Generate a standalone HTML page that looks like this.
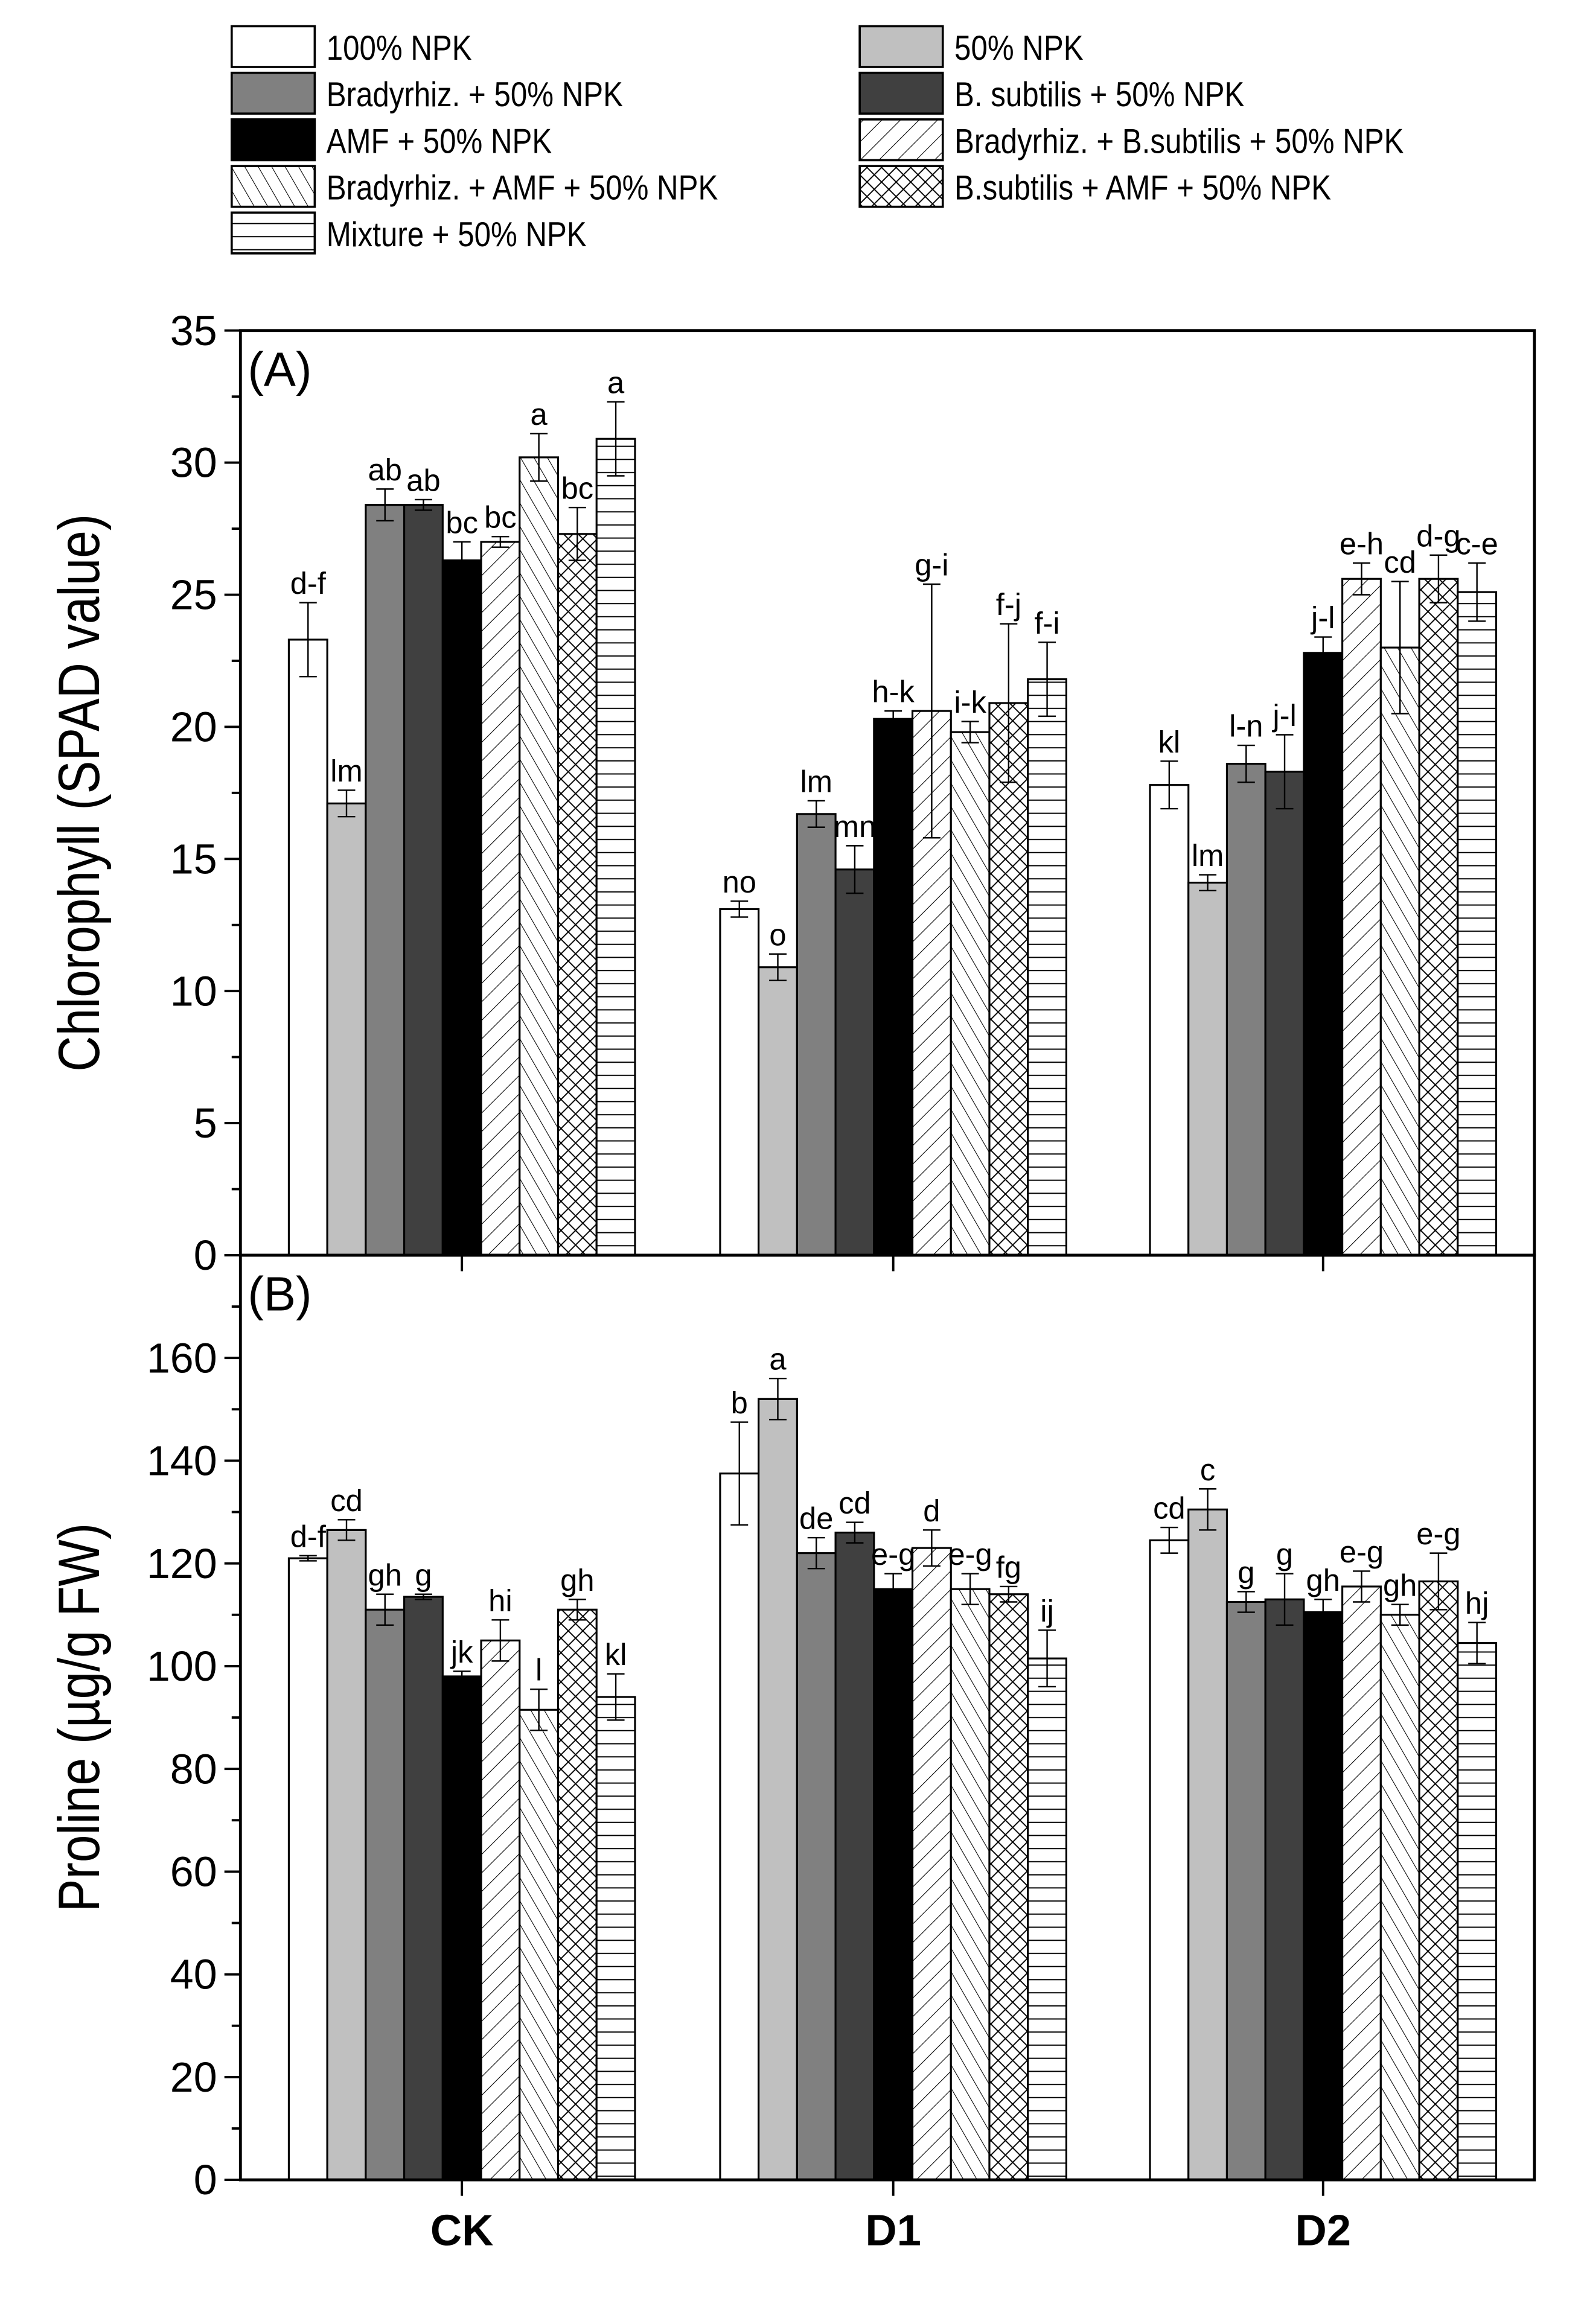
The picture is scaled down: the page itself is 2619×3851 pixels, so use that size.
<!DOCTYPE html>
<html><head><meta charset="utf-8"><style>html,body{margin:0;padding:0;background:#fff}svg{display:block}</style></head>
<body>
<svg id="chart" xmlns="http://www.w3.org/2000/svg" width="2619" height="3851" viewBox="0 0 1085 1596" preserveAspectRatio="none" font-family="'Liberation Sans', sans-serif">
<defs>
<pattern id="pBB" patternUnits="userSpaceOnUse" width="9" height="9" patternTransform="rotate(45)"><rect width="9" height="9" fill="#fff"/><line x1="0" y1="0" x2="0" y2="9" stroke="#000" stroke-width="0.9"/></pattern>
<pattern id="pBA" patternUnits="userSpaceOnUse" width="8" height="8" patternTransform="rotate(-30)"><rect width="8" height="8" fill="#fff"/><line x1="0" y1="0" x2="0" y2="8" stroke="#000" stroke-width="0.9"/></pattern>
<pattern id="pBsA" patternUnits="userSpaceOnUse" width="10" height="10"><rect width="10" height="10" fill="#fff"/><path d="M0 0L10 10M10 0L0 10" stroke="#000" stroke-width="0.8"/></pattern>
<pattern id="pMix" patternUnits="userSpaceOnUse" width="10" height="9"><rect width="10" height="9" fill="#fff"/><line x1="0" y1="0.5" x2="10" y2="0.5" stroke="#000" stroke-width="0.8"/></pattern>
</defs>
<g id="legend"></g>
<g id="plot"></g>
</svg>
<script>
const groups = ["CK","D1","D2"];
const series = ["100% NPK","50% NPK","Bradyrhiz. + 50% NPK","B. subtilis + 50% NPK","AMF + 50% NPK","Bradyrhiz. + B.subtilis + 50% NPK","Bradyrhiz. + AMF + 50% NPK","B.subtilis + AMF + 50% NPK","Mixture + 50% NPK"];
const chlValues = [[23.3,17.1,28.4,28.4,26.3,27.0,30.2,27.3,30.9],[13.1,10.9,16.7,14.6,20.3,20.6,19.8,20.9,21.8],[17.8,14.1,18.6,18.3,22.8,25.6,23.0,25.6,25.1]];
const chlErrors = [[1.4,0.5,0.6,0.2,0.7,0.2,0.9,1.0,1.4],[0.3,0.5,0.5,0.9,0.3,4.8,0.4,3.0,1.4],[0.9,0.3,0.7,1.4,0.6,0.6,2.5,0.9,1.1]];
const chlLetters = [["d-f","lm","ab","ab","bc","bc","a","bc","a"],["no","o","lm","mn","h-k","g-i","i-k","f-j","f-i"],["kl","lm","l-n","j-l","j-l","e-h","cd","d-g","c-e"]];
const proValues = [[121,126.5,111,113.5,98,105,91.5,111,94],[137.5,152,122,126,115,123,115,114,101.5],[124.5,130.5,112.5,113,110.5,115.5,110,116.5,104.5]];
const proErrors = [[0.5,2,3,0.5,1,4,4,2,4.5],[10,4,3,2,3,3.5,3,1.5,5.5],[2.5,4,2,5,2.5,3,2,5.5,4]];
const proLetters = [["d-f","cd","gh","g","jk","hi","l","gh","kl"],["b","a","de","cd","e-g","d","e-g","fg","ij"],["cd","c","g","g","gh","e-g","gh","e-g","hj"]];
const chlTicks = [0,5,10,15,20,25,30,35];
const proTicks = [0,20,40,60,80,100,120,140,160];

const fills = ["#fff","#c0c0c0","#808080","#404040","#000","url(#pBB)","url(#pBA)","url(#pBsA)","url(#pMix)"];
const NS="http://www.w3.org/2000/svg";
function mk(tag, attrs, parent, text){const e=document.createElementNS(NS,tag);for(const k in attrs)e.setAttribute(k,attrs[k]);if(text!==undefined)e.textContent=text;parent.appendChild(e);return e;}
const plot=document.getElementById('plot'), legend=document.getElementById('legend');
const X0=165, X1=1053;
const groupCenters=[317,613,908];
const barW=26.4;
function xBar(g,i){return groupCenters[g]+(i-4.5)*barW;}

function panel(top,bottom,vmax,ticks,minorStep,values,errors,letters,title,tag,name){
  const y=v=>bottom-(v/vmax)*(bottom-top);
  const pg=mk('g',{},plot);
  
  
  for(let g=0;g<groups.length;g++){
    for(let i=0;i<series.length;i++){
      const v=values[g][i], e=errors[g][i], x=xBar(g,i);
      const r=mk('rect',{x:x,y:y(v),width:barW,height:bottom-y(v),fill:fills[i],stroke:'#000','stroke-width':1.3},pg);
      
      
      const cx=x+barW/2;
      const eb=mk('path',{d:`M${cx} ${y(v+e)}V${y(v-e)}M${cx-6} ${y(v+e)}H${cx+6}M${cx-6} ${y(v-e)}H${cx+6}`,stroke:'#000','stroke-width':1,fill:'none'},pg);
      
      
      const t=mk('text',{x:cx,y:y(v+e)-6,'font-size':21,'text-anchor':'middle'},pg,letters[g][i]);
      
      
    }
  }
  const fr=mk('rect',{x:X0,y:top,width:X1-X0,height:bottom-top,fill:'none',stroke:'#000','stroke-width':2},pg);
  
  
  for(let v=0;v<=vmax+1e-6;v+=minorStep){
    const major=ticks.includes(Math.round(v*10)/10)||Math.abs(v-vmax)<1e-6;
    mk('line',{x1:X0-(major?11:6),x2:X0,y1:y(v),y2:y(v),stroke:'#000','stroke-width':1.6},pg);
  }
  ticks.forEach(v=>{
    const t=mk('text',{x:X0-16,y:y(v)+10,'font-size':29,'text-anchor':'end'},pg,String(v));
    
    
  });
  groupCenters.forEach(c=>mk('line',{x1:c,x2:c,y1:bottom,y2:bottom+11,stroke:'#000','stroke-width':1.6},pg));
  const yt=mk('text',{x:0,y:0,'font-size':40,'text-anchor':'middle',transform:`translate(68 ${(top+bottom)/2}) rotate(-90) scale(0.85 1)`},pg,title);
  
  
  const pl=mk('text',{x:170,y:top+38,'font-size':33},pg,tag);
  
  
}
panel(227,862,35,chlTicks,2.5,chlValues,chlErrors,chlLetters,'Chlorophyll (SPAD value)','(A)','chlorophyll-panel');
panel(862,1497,180,proTicks,10,proValues,proErrors,proLetters,'Proline (µg/g FW)','(B)','proline-panel');
groups.forEach((g,i)=>{
  const t=mk('text',{x:groupCenters[i],y:1542,'font-size':30,'font-weight':'bold','text-anchor':'middle'},plot,g);
  
  
});
const legPos=[[159,18],[590,18],[159,50],[590,50],[159,82],[590,82],[159,114],[590,114],[159,146]];
series.forEach((s,i)=>{
  const [lx,ly]=legPos[i];
  const g=mk('g',{},legend);
  
  
  mk('rect',{x:lx,y:ly,width:57,height:28,fill:fills[i],stroke:'#000','stroke-width':1.5},g);
  mk('text',{x:0,y:0,'font-size':24,transform:`translate(${lx+65} ${ly+23}) scale(0.85 1)`},g,s);
});
</script>
</body></html>
